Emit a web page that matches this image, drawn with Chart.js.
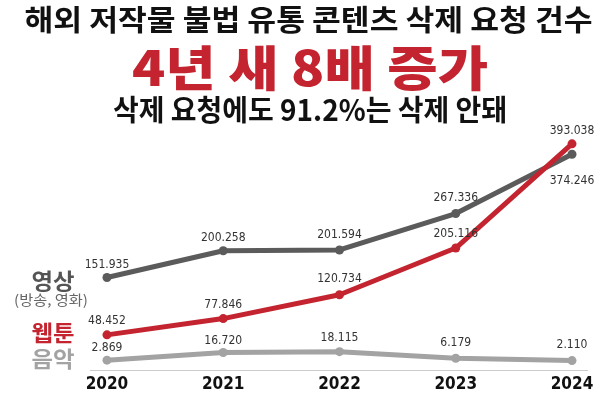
<!DOCTYPE html>
<html>
<head>
<meta charset="utf-8">
<script src="https://cdn.jsdelivr.net/npm/chart.js@4.4.1/dist/chart.umd.min.js"></script>
<style>
  html, body { margin: 0; padding: 0; background: #fff; }
</style>
</head>
<body>
<canvas id="myChart" width="600" height="399"></canvas>
<script>
// data
var years = [2020, 2021, 2022, 2023, 2024];
var video = [151935, 200258, 201594, 267336, 374246];
var webtoon = [48452, 77846, 120734, 205116, 393038];
var music = [2869, 16720, 18115, 6179, 2110];

var seriesNames = ['영상', '웹툰', '음악'];
var headline = '해외 저작물 불법 유통 콘텐츠 삭제 요청 건수';
var headline2 = '4년 새 8배 증가';
var headline3 = '삭제 요청에도 91.2%는 삭제 안돼';
var videoNote = '(방송, 영화)';

var RED = '#c3242f';
var DARK = '#5b5b5b';
var LIGHT = '#a3a3a3';
var NARROW = "'Liberation Sans Narrow', 'DejaVu Sans Condensed', sans-serif";
var KR = "'Noto Sans CJK KR', sans-serif";

// label placement (px above/below the point), same order as the datasets
var labelShift = [
    [-13, -13, -15, -16, 27],
    [-14, -14, -16, -14, -13],
    [-12, -12, -14, -15, -16]
];

function fmt(v) {
    return String(v).replace(/\B(?=(\d{3})+(?!\d))/g, '.');
}

function pts(arr) {
    return arr.map(function (v, i) { return { x: years[i], y: v }; });
}

// draw text centred at cx,cy squeezed/stretched to a given width
function fitText(ctx, text, cx, cy, font, color, width) {
    ctx.save();
    ctx.font = font;
    ctx.fillStyle = color;
    ctx.textAlign = 'center';
    ctx.textBaseline = 'middle';
    var w = ctx.measureText(text).width;
    ctx.translate(cx, cy);
    ctx.scale(width / w, 1);
    ctx.fillText(text, 0, 0);
    ctx.restore();
}

var textPlugin = {
    id: 'texts',
    afterDatasetsDraw: function (chart) {
        var ctx = chart.ctx;
        // value labels
        chart.data.datasets.forEach(function (ds, di) {
            var meta = chart.getDatasetMeta(di);
            meta.data.forEach(function (p, i) {
                ctx.save();
                ctx.font = '12px ' + NARROW;
                ctx.fillStyle = '#333';
                ctx.textAlign = 'center';
                ctx.textBaseline = 'middle';
                ctx.fillText(fmt(ds.data[i].y), p.x, p.y + labelShift[di][i]);
                ctx.restore();
            });
        });
    },
    afterDraw: function (chart) {
        var ctx = chart.ctx;
        fitText(ctx, headline, 308.5, 20, 'bold 29px ' + KR, '#111', 568);
        fitText(ctx, headline2, 310, 68, '900 48px ' + KR, RED, 356);
        fitText(ctx, headline3, 310, 110, 'bold 29px ' + KR, '#111', 394);

        fitText(ctx, seriesNames[0], 53, 281, 'bold 22px ' + KR, '#555', 43);
        fitText(ctx, videoNote, 51, 300, '14px ' + KR, '#666', 74);
        fitText(ctx, seriesNames[1], 53, 333, 'bold 22px ' + KR, RED, 43);
        fitText(ctx, seriesNames[2], 53, 359, 'bold 22px ' + KR, LIGHT, 43);
    }
};

var ctx = document.getElementById('myChart').getContext('2d');
var myChart = new Chart(ctx, {
    type: 'line',
    data: {
        datasets: [{
            label: seriesNames[0],
            data: pts(video),
            borderColor: DARK,
            backgroundColor: DARK,
            order: 2
        },
        {
            label: seriesNames[1],
            data: pts(webtoon),
            borderColor: RED,
            backgroundColor: RED,
            order: 1
        },
        {
            label: seriesNames[2],
            data: pts(music),
            borderColor: LIGHT,
            backgroundColor: LIGHT,
            order: 3
        }]
    },
    options: {
        responsive: false,
        animation: false,
        clip: false,
        elements: {
            line: { borderWidth: 5, tension: 0, borderCapStyle: 'round', borderJoinStyle: 'round' },
            point: { radius: 4.5, borderWidth: 0, hoverRadius: 4.5 }
        },
        layout: {
            padding: { left: 90, right: 13, top: 140, bottom: 0 }
        },
        plugins: {
            legend: { display: false },
            tooltip: { enabled: false }
        },
        scales: {
            x: {
                type: 'linear',
                min: 2019.854,
                max: 2024.129,
                afterBuildTicks: function (scale) {
                    scale.ticks = years.map(function (y) { return { value: y }; });
                },
                grid: { display: true, drawOnChartArea: false, drawTicks: false },
                border: { display: true, color: '#cccccc', width: 1 },
                ticks: {
                    padding: 4,
                    color: '#111',
                    font: { family: NARROW, size: 17, weight: 'bold' },
                    callback: function (v) { return String(v); }
                }
            },
            y: {
                display: false,
                min: -16000,
                max: 400000
            }
        }
    },
    plugins: [textPlugin]
});
</script>
</body>
</html>
